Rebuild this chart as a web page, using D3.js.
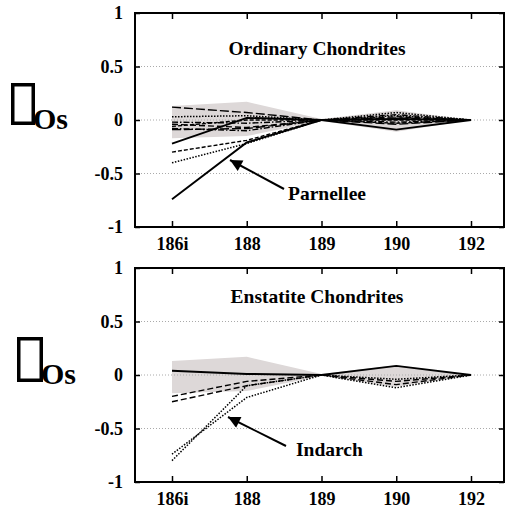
<!DOCTYPE html>
<html><head><meta charset="utf-8">
<script src="https://cdn.jsdelivr.net/npm/d3@7"></script>
<style>
body{margin:0;background:#fff}
svg{display:block}
text{font-family:"Liberation Serif","Times New Roman",serif;font-weight:bold;fill:#000}
</style></head>
<body><svg id="c" width="506" height="512"></svg>
<script>
// ---------- data ----------
const categories = ["186i","188","189","190","192"];
const yTickValues = [1, 0.5, 0, -0.5, -1];
const yTickLabels = ["1","0.5","0","-0.5","-1"];
const bandLow  = [-0.17, -0.15, -0.01, -0.11, 0];
const bandHigh = [ 0.13,  0.17,  0.01,  0.09, 0];

// Ordinary chondrites
const ocParnellee = [-0.74, -0.21, 0,  0.01, 0];
const ocA = [-0.22,  0.02, 0, -0.09, 0];
const ocB = [-0.30, -0.19, 0, -0.03, 0];
const ocC = [-0.40, -0.22, 0,  0.04, 0];
const ocD = [ 0.12,  0.07, 0,  0.02, 0];
const ocE = [ 0.03,  0.04, 0,  0.07, 0];
const ocF = [-0.02, -0.03, 0,  0.05, 0];
const ocG = [-0.04, -0.07, 0,  0.03, 0];
const ocH = [-0.08, -0.10, 0, -0.02, 0];
const ocI = [-0.09, -0.08, 0, -0.04, 0];
const ocJ = [-0.06,  0.00, 0,  0.00, 0];

// Enstatite chondrites
const ecA = [ 0.04,  0.01, 0,  0.085, 0];
const ecB = [-0.20, -0.06, 0, -0.06, 0];
const ecC = [-0.25, -0.10, 0, -0.09, 0];
const ecIndarch1 = [-0.74, -0.21, 0, -0.12, 0];
const ecIndarch2 = [-0.80, -0.10, 0, -0.04, 0];

const panelTitles = ["Ordinary Chondrites", "Enstatite Chondrites"];
const annotations = ["Parnellee", "Indarch"];
const yLabelText = "Os";

// ---------- styles ----------
const ST = {
  solid:  {dash: null, w: 1.9},
  dash:   {dash: "6,3", w: 1.4},
  short:  {dash: "4,2", w: 1.4},
  dot:    {dash: "1.5,1.5", w: 1.5},
  dashdot:{dash: "6,2,1.5,2", w: 1.4},
  long:   {dash: "9,3", w: 1.4}
};

const panels = [
  {top: 13, bottom: 227, title: panelTitles[0], titleY: 55,
   series: [[ocD,"long"],[ocE,"dot"],[ocF,"dashdot"],[ocG,"dash"],[ocH,"dashdot"],[ocI,"long"],[ocJ,"short"],
            [ocB,"short"],[ocC,"dot"],[ocA,"solid"],[ocParnellee,"solid"]],
   ann: {text: annotations[0], tx: 288, ty: 200, from: [284, 189], to: [230, 160]},
   ylab: {bx: 11, by: 83, bw: 24, bh: 42, tx: 33, ty: 129}},
  {top: 268, bottom: 482, title: panelTitles[1], titleY: 303,
   series: [[ecB,"dash"],[ecC,"dash"],[ecIndarch1,"dot"],[ecIndarch2,"dot"],[ecA,"solid"]],
   ann: {text: annotations[1], tx: 296, ty: 456, from: [286, 446], to: [228, 417]},
   ylab: {bx: 17, by: 337, bw: 26, bh: 45, tx: 41, ty: 384}}
];

const svg = d3.select("#c");
const left = 135, right = 504;
const x = d3.scalePoint().domain(categories).range([172, 471]);

const defs = svg.append("defs");
defs.append("marker").attr("id","ah").attr("viewBox","0 0 10 10")
  .attr("refX", 10).attr("refY", 5).attr("markerWidth", 7).attr("markerHeight", 6)
  .attr("markerUnits","strokeWidth").attr("orient","auto")
  .append("path").attr("d","M0,0L10,5L0,10z").attr("fill","#000");

panels.forEach(p => {
  const y = d3.scaleLinear().domain([-1, 1]).range([p.bottom, p.top]);
  const g = svg.append("g");

  // band
  const area = d3.area().x((d,i) => x(categories[i])).y0((d,i) => y(bandLow[i])).y1((d,i) => y(bandHigh[i]));
  g.append("path").datum(bandLow).attr("d", area).attr("fill", "#ddd8d8");

  // grid
  g.selectAll(".grid").data([0.5, 0, -0.5]).enter().append("line")
    .attr("x1", left).attr("x2", right).attr("y1", d => y(d)).attr("y2", d => y(d))
    .attr("stroke", "#aaa").attr("stroke-width", 1).attr("stroke-dasharray", "1,2");

  // series
  const line = d3.line().x((d,i) => x(categories[i])).y(d => y(d));
  p.series.forEach(([vals, st]) => {
    g.append("path").datum(vals).attr("d", line).attr("fill","none")
      .attr("stroke","#000").attr("stroke-width", ST[st].w)
      .attr("stroke-dasharray", ST[st].dash);
  });

  // frame
  g.append("rect").attr("x", left).attr("y", p.top).attr("width", right - left).attr("height", p.bottom - p.top)
    .attr("fill","none").attr("stroke","#000").attr("stroke-width", 2);

  // y axis (left, ticks inward) and right ticks
  const yAxisL = d3.axisLeft(y).tickValues(yTickValues).tickSizeInner(-5).tickSizeOuter(0)
    .tickPadding(12).tickFormat((d,i) => yTickLabels[i]);
  const ga = g.append("g").attr("transform", `translate(${left},0)`).call(yAxisL);
  ga.select(".domain").remove();
  ga.selectAll("line").attr("stroke","#000").attr("stroke-width",1.5);
  ga.selectAll("text").attr("font-size", 18).attr("font-family", "Liberation Serif").attr("font-weight","bold").attr("fill","#000");

  const yAxisR = d3.axisRight(y).tickValues(yTickValues).tickSizeInner(-5).tickSizeOuter(0).tickFormat("");
  const gr = g.append("g").attr("transform", `translate(${right},0)`).call(yAxisR);
  gr.select(".domain").remove();
  gr.selectAll("line").attr("stroke","#000").attr("stroke-width",1.5);

  // x axes
  const xAxisB = d3.axisBottom(x).tickSizeInner(-6).tickSizeOuter(0).tickPadding(10);
  const gb = g.append("g").attr("transform", `translate(0,${p.bottom})`).call(xAxisB);
  gb.select(".domain").remove();
  gb.selectAll("line").attr("stroke","#000").attr("stroke-width",1.5);
  gb.selectAll("text").attr("font-size", 18).attr("font-family", "Liberation Serif").attr("font-weight","bold").attr("fill","#000");

  const xAxisT = d3.axisTop(x).tickSizeInner(-6).tickSizeOuter(0).tickFormat("");
  const gt = g.append("g").attr("transform", `translate(0,${p.top})`).call(xAxisT);
  gt.select(".domain").remove();
  gt.selectAll("line").attr("stroke","#000").attr("stroke-width",1.5);

  // title
  g.append("text").attr("x", 317).attr("y", p.titleY).attr("text-anchor","middle")
    .attr("font-size", 19.5).text(p.title);

  // annotation
  g.append("line").attr("x1", p.ann.from[0]).attr("y1", p.ann.from[1])
    .attr("x2", p.ann.to[0]).attr("y2", p.ann.to[1])
    .attr("stroke","#000").attr("stroke-width", 2).attr("marker-end","url(#ah)");
  g.append("text").attr("x", p.ann.tx).attr("y", p.ann.ty).attr("font-size", 19.5).text(p.ann.text);

  // y label: missing-glyph box + "Os"
  g.append("rect").attr("x", p.ylab.bx + 1.75).attr("y", p.ylab.by + 1.75)
    .attr("width", p.ylab.bw - 3.5).attr("height", p.ylab.bh - 3.5)
    .attr("fill","none").attr("stroke","#000").attr("stroke-width", 3.5);
  g.append("text").attr("x", p.ylab.tx).attr("y", p.ylab.ty).attr("font-size", 30).text(yLabelText);
});
</script></body></html>
